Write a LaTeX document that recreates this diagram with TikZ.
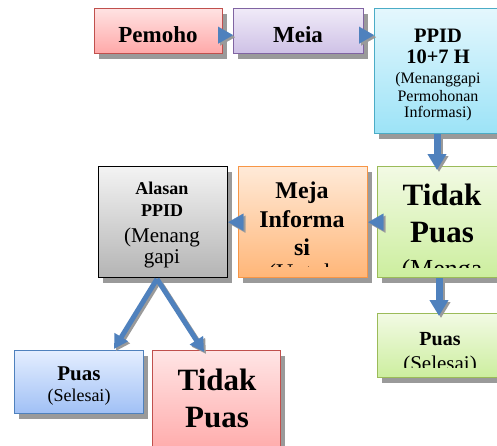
\documentclass[tikz,border=0pt]{standalone}
\usepackage{fontspec}
\setmainfont{Liberation Serif}
\usetikzlibrary{arrows.meta,shadows}
\definecolor{ab}{HTML}{4F81BD}
\definecolor{redb}{HTML}{C0504D}
\definecolor{purb}{HTML}{8064A2}
\definecolor{cyab}{HTML}{4BACC6}
\definecolor{greb}{HTML}{9BBB59}
\definecolor{orab}{HTML}{F79646}
\definecolor{blub}{HTML}{4F81BD}
\definecolor{shd}{HTML}{9A9A9A}
\begin{document}
\begin{tikzpicture}[x=1pt,y=-1pt,
  bx/.style={rectangle, line width=1.3pt, inner sep=0pt, anchor=north west,
    drop shadow={shadow xshift=4pt, shadow yshift=-5pt, fill=shd, opacity=1}},
  tl/.style={anchor=base, inner sep=0pt},
  bb/.style={tl, font=\fontsize{#1}{#1}\selectfont\bfseries},
  nn/.style={tl, font=\fontsize{#1}{#1}\selectfont},
  harr/.style={draw=ab, fill=ab, line width=0.1pt, -{Triangle[length=15pt,width=17pt]}},
  varr/.style={draw=ab, line width=7pt, -{Triangle[length=16pt,width=18pt]}},
  darr/.style={draw=ab, line width=5pt, -{Triangle[length=14pt,width=15pt]}},
]
\useasboundingbox (0,0) rectangle (497,445);
\fill[white] (0,0) rectangle (497,445);

% boxes
\node[bx, draw=redb, top color={rgb,255:red,255;green,226;blue,226}, bottom color={rgb,255:red,255;green,168;blue,168},
  minimum width=128pt, minimum height=45pt] (pem) at (94,8) {};
\node[bx, draw=purb, top color={rgb,255:red,240;green,234;blue,248}, bottom color={rgb,255:red,206;green,193;blue,230},
  minimum width=130pt, minimum height=45pt] (meia) at (233,8) {};
\node[bx, draw=cyab, top color={rgb,255:red,228;green,247;blue,253}, bottom color={rgb,255:red,156;green,227;blue,247},
  minimum width=128pt, minimum height=125pt] (ppid) at (374,8) {};
\node[bx, draw=greb, top color={rgb,255:red,242;green,250;blue,228}, bottom color={rgb,255:red,204;green,238;blue,158},
  minimum width=130pt, minimum height=111pt] (tp1) at (377,166) {};
\node[bx, draw=orab, top color={rgb,255:red,255;green,234;blue,216}, bottom color={rgb,255:red,255;green,182;blue,120},
  minimum width=129pt, minimum height=111pt] (meja) at (238,166) {};
\node[bx, draw=black, top color={rgb,255:red,243;green,243;blue,243}, bottom color={rgb,255:red,180;green,180;blue,180},
  minimum width=129pt, minimum height=111pt] (alas) at (98,166) {};
\node[bx, draw=greb, top color={rgb,255:red,242;green,250;blue,228}, bottom color={rgb,255:red,204;green,238;blue,158},
  minimum width=130pt, minimum height=64pt] (puas1) at (377,313) {};
\node[bx, draw=blub, top color={rgb,255:red,228;green,238;blue,255}, bottom color={rgb,255:red,160;green,192;blue,245},
  minimum width=129pt, minimum height=63pt] (puas2) at (14,350) {};
\node[bx, draw=redb, top color={rgb,255:red,255;green,229;blue,229}, bottom color={rgb,255:red,255;green,165;blue,165},
  minimum width=128pt, minimum height=110pt] (tp2) at (152,350) {};

% texts
\node[bb=23] (t1) at (158,42) {Pemoho};
\node[bb=23] (t2) at (298,42) {Meia};
\node[bb=20.5] (t3a) at (438,42) {PPID};
\node[bb=20.5] (t3b) at (438,63) {10+7 H};
\node[nn=16] (t3c) at (438,83) {(Menanggapi};
\node[nn=16] (t3d) at (438,101) {Permohonan};
\node[nn=16] (t3e) at (438,117) {Informasi)};
\begin{scope}
  \clip (377,166) rectangle (507,267);
  \node[bb=31] (t4a) at (442,205) {Tidak};
  \node[bb=31] (t4b) at (442,242) {Puas};
  \node[nn=26] (t4c) at (442,277) {(Menga};
\end{scope}
\begin{scope}
  \clip (238,166) rectangle (367,266);
  \node[bb=24] (t5a) at (302,198) {Meja};
  \node[bb=24] (t5b) at (302,227) {Informa};
  \node[bb=24] (t5c) at (302,255) {si};
  \node[nn=24] (t5d) at (302,280) {(Untuk};
\end{scope}
\begin{scope}
  \clip (98,166) rectangle (227,267);
  \node[bb=18] (t6a) at (162,194) {Alasan};
  \node[bb=18] (t6b) at (162,216) {PPID};
  \node[nn=21] (t6c) at (162,242) {(Menang};
  \node[nn=21] (t6d) at (162,263) {gapi};
\end{scope}
\begin{scope}
  \clip (377,313) rectangle (507,367);
  \node[bb=20] (t7a) at (440,345) {Puas};
  \node[nn=21] (t7b) at (440,370) {(Selesai)};
\end{scope}
\node[bb=21] (t8a) at (79,380) {Puas};
\node[nn=18] (t8b) at (79,401) {(Selesai)};
\node[bb=31] (t9a) at (217,390) {Tidak};
\node[bb=31] (t9b) at (217,427) {Puas};

% connector coordinates
\coordinate (v1) at (437,170);
\coordinate (v2) at (439,316);
\coordinate (fork) at (157,279);
\coordinate (d1) at (114,349);
\coordinate (d2) at (204,352);

% arrow shadows
\begin{scope}[transform canvas={xshift=2pt,yshift=-2pt}]
  \draw[harr, draw=shd, fill=shd] ([yshift=-4pt]pem.east) -- ([yshift=-4pt]meia.west);
  \draw[harr, draw=shd, fill=shd] ([yshift=-4pt]meia.east) -- ([yshift=-4pt]meia.east -| ppid.west);
  \draw[harr, draw=shd, fill=shd] (tp1.west) -- (meja.east);
  \draw[harr, draw=shd, fill=shd] (meja.west) -- (alas.east);
  \draw[varr, draw=shd] (ppid.south -| v1) -- (v1);
  \draw[varr, draw=shd] (tp1.south -| v2) -- (v2);
  \draw[darr, draw=shd] (fork) -- (d1);
  \draw[darr, draw=shd] (fork) -- (d2);
\end{scope}
% arrows
\draw[harr] ([yshift=-4pt]pem.east) -- ([yshift=-4pt]meia.west);
\draw[harr] ([yshift=-4pt]meia.east) -- ([yshift=-4pt]meia.east -| ppid.west);
\draw[harr] (tp1.west) -- (meja.east);
\draw[harr] (meja.west) -- (alas.east);
\draw[varr] (ppid.south -| v1) -- (v1);
\draw[varr] (tp1.south -| v2) -- (v2);
\draw[darr] (fork) -- (d1);
\draw[darr] (fork) -- (d2);
\end{tikzpicture}
\end{document}
